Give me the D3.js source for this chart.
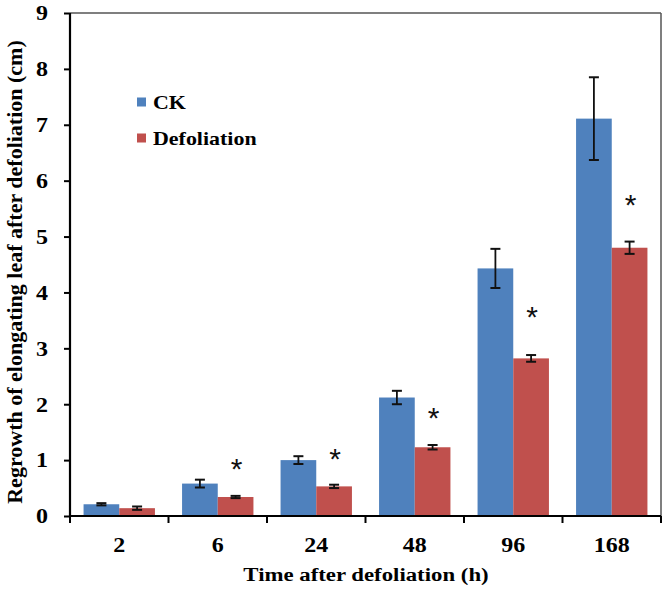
<!DOCTYPE html>
<html><head><meta charset="utf-8">
<script src="https://cdn.jsdelivr.net/npm/d3@7"></script>
<style>body{margin:0;background:#fff}svg{display:block}</style>
</head><body>
<svg id="c" width="668" height="591"></svg>
<script>
const categories = ["2", "6", "24", "48", "96", "168"];
const ckValues = [0.21, 0.58, 1.00, 2.12, 4.43, 7.11];
const ckErrors = [0.02, 0.07, 0.07, 0.12, 0.35, 0.74];
const defValues = [0.14, 0.34, 0.53, 1.23, 2.82, 4.80];
const defErrors = [0.03, 0.02, 0.03, 0.04, 0.06, 0.11];
const sigMarks = ["", "*", "*", "*", "*", "*"];
const sigY = [0, 0.95, 1.13, 1.86, 3.67, 5.68];
const yTicks = [0, 1, 2, 3, 4, 5, 6, 7, 8, 9];
const seriesNames = ["CK", "Defoliation"];
const seriesColors = ["#4F81BD", "#C0504D"];

const svg = d3.select("#c");
const L = 70, R = 661, T = 13, B = 516;
const font = "'Liberation Serif','Times New Roman',serif";
const SX = 1.2;

const x = d3.scaleBand().domain(categories).range([L, R]).paddingInner(0).paddingOuter(0);
const inner = d3.scaleBand().domain(seriesNames).range([0, x.bandwidth()]).paddingInner(0).paddingOuter(0.38);
const y = d3.scaleLinear().domain([0, 9]).range([B, T]);

// frame top/right
svg.append("line").attr("x1", L).attr("x2", R).attr("y1", T).attr("y2", T).attr("stroke", "#555").attr("stroke-width", 1.5);
svg.append("line").attr("x1", R).attr("x2", R).attr("y1", T).attr("y2", B).attr("stroke", "#555").attr("stroke-width", 1.5);

const data = categories.map((c, i) => ({c, vals: [
  {s: seriesNames[0], v: ckValues[i], e: ckErrors[i], color: seriesColors[0]},
  {s: seriesNames[1], v: defValues[i], e: defErrors[i], color: seriesColors[1]}
]}));

const g = svg.append("g");
const grp = g.selectAll("g.grp").data(data).join("g").attr("transform", d => `translate(${x(d.c)},0)`);
grp.selectAll("rect").data(d => d.vals).join("rect")
  .attr("x", d => inner(d.s)).attr("width", inner.bandwidth())
  .attr("y", d => y(d.v)).attr("height", d => y(0) - y(d.v))
  .attr("fill", d => d.color);

// error bars
const eb = grp.selectAll("g.eb").data(d => d.vals).join("g").attr("class", "eb");
const cx = d => inner(d.s) + inner.bandwidth() / 2;
eb.append("line").attr("x1", cx).attr("x2", cx).attr("y1", d => y(d.v + d.e)).attr("y2", d => y(d.v - d.e)).attr("stroke", "#111").attr("stroke-width", 1.8);
eb.append("line").attr("x1", d => cx(d) - 5).attr("x2", d => cx(d) + 5).attr("y1", d => y(d.v + d.e)).attr("y2", d => y(d.v + d.e)).attr("stroke", "#111").attr("stroke-width", 2);
eb.append("line").attr("x1", d => cx(d) - 5).attr("x2", d => cx(d) + 5).attr("y1", d => y(d.v - d.e)).attr("y2", d => y(d.v - d.e)).attr("stroke", "#111").attr("stroke-width", 2);

// significance marks
svg.selectAll("text.sig").data(categories).join("text").attr("class", "sig")
  .attr("x", (c, i) => x(c) + inner(seriesNames[1]) + inner.bandwidth() / 2 + 1)
  .attr("y", (c, i) => y(sigY[i]) + 16)
  .attr("text-anchor", "middle").attr("font-family", "'Liberation Sans',Arial,sans-serif").attr("font-size", 30)
  .attr("fill", "#111")
  .text((c, i) => sigMarks[i]);

// axes
const yAxis = svg.append("g").attr("transform", `translate(${L},0)`)
  .call(d3.axisLeft(y).tickValues(yTicks).tickSize(6).tickPadding(0).tickFormat(d3.format("d")));
const xAxis = svg.append("g").attr("transform", `translate(0,${B})`)
  .call(d3.axisBottom(x).tickSize(0).tickPadding(0));
// boundary ticks on x axis
svg.append("g").selectAll("line").data(d3.range(categories.length + 1)).join("line")
  .attr("x1", i => L + i * x.step()).attr("x2", i => L + i * x.step())
  .attr("y1", B).attr("y2", B + 7).attr("stroke", "#000").attr("stroke-width", 2);

[yAxis, xAxis].forEach(a => {
  a.select(".domain").attr("stroke", "#000").attr("stroke-width", 2.2);
  a.selectAll(".tick line").attr("stroke", "#000").attr("stroke-width", 2);
  a.selectAll(".tick text").attr("font-family", font).attr("font-weight", "bold").attr("font-size", 20).attr("fill", "#000");
});
yAxis.selectAll(".tick text").attr("x", null).attr("dy", null)
  .attr("dominant-baseline", "central").attr("transform", `translate(-22,0) scale(${SX},1)`);
xAxis.selectAll(".tick text").attr("y", null).attr("dy", null)
  .attr("transform", `translate(0,36) scale(${SX},1)`);
yAxis.select(".domain").attr("d", `M0,${B}V${T}`);
xAxis.select(".domain").attr("d", `M${L},0H${R}`);

// axis titles
svg.append("text").attr("transform", `translate(366,581) scale(${SX},1)`).attr("text-anchor", "middle")
  .attr("font-family", font).attr("font-weight", "bold").attr("font-size", 19).text("Time after defoliation (h)");
svg.append("text").attr("transform", "translate(14,272) rotate(-90)").attr("text-anchor", "middle").attr("dominant-baseline", "central")
  .attr("font-family", font).attr("font-weight", "bold").attr("font-size", 22).text("Regrowth of elongating leaf after defoliation (cm)");

// legend
const leg = svg.append("g").selectAll("g").data(seriesNames).join("g")
  .attr("transform", (d, i) => `translate(137,${102 + i * 36})`);
leg.append("rect").attr("x", 0).attr("y", -4.5).attr("width", 9).attr("height", 9).attr("fill", (d, i) => seriesColors[i]);
leg.append("text").attr("transform", `translate(16,6.5) scale(1.22,1)`)
  .attr("font-family", font).attr("font-weight", "bold").attr("font-size", 18).text(d => d);
</script>
</body></html>
